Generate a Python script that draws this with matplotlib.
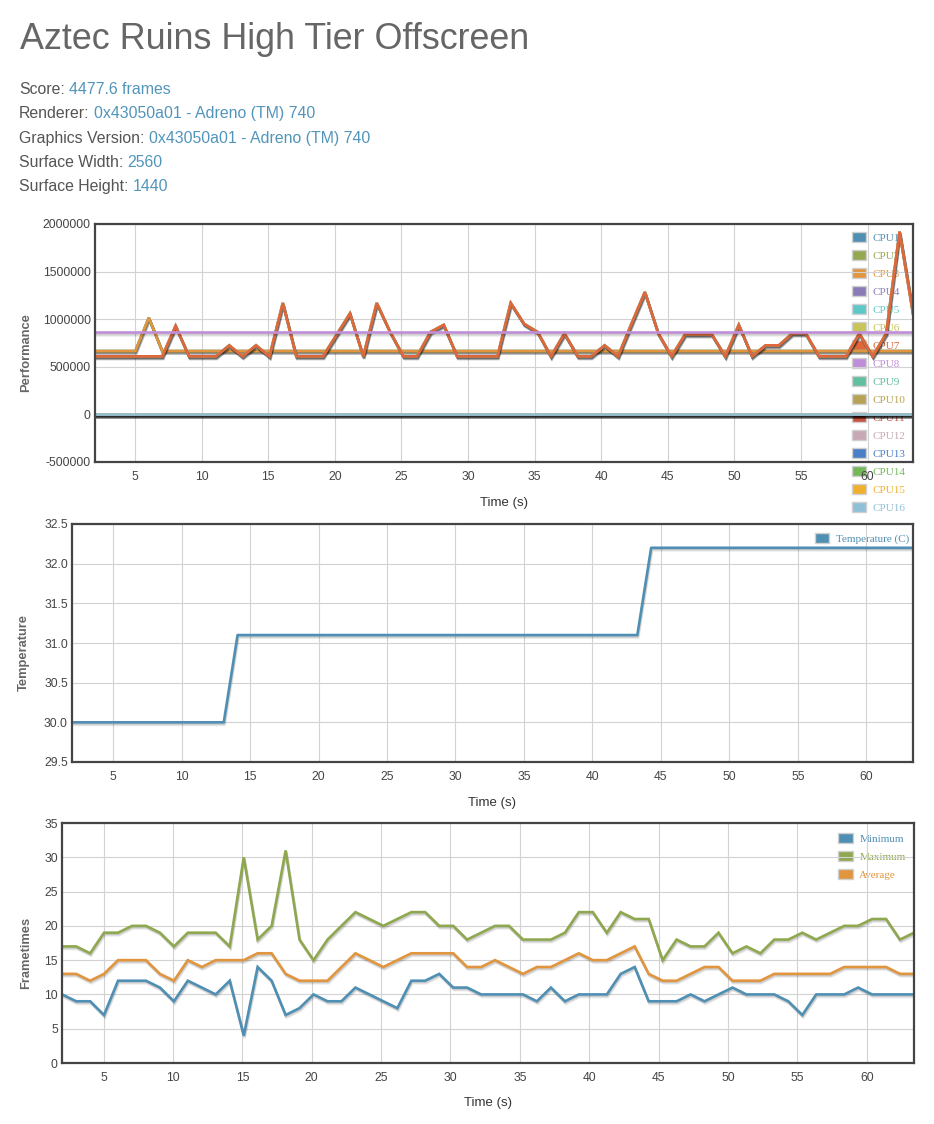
import matplotlib
matplotlib.use('Agg')
import matplotlib.pyplot as plt
from matplotlib.patches import Patch
import matplotlib.patheffects as pe

# ---------------- data ----------------
time_s = [2.01, 3.02, 4.03, 5.03, 6.04, 7.05, 8.05, 9.06, 10.07, 11.07,
          12.08, 13.08, 14.09, 15.10, 16.10, 17.11, 18.12, 19.12, 20.13, 21.14,
          22.14, 23.15, 24.16, 25.16, 26.17, 27.18, 28.18, 29.19, 30.20, 31.20,
          32.21, 33.21, 34.22, 35.23, 36.23, 37.24, 38.25, 39.25, 40.26, 41.27,
          42.27, 43.28, 44.29, 45.29, 46.30, 47.31, 48.31, 49.32, 50.33, 51.33,
          52.34, 53.34, 54.35, 55.36, 56.36, 57.37, 58.38, 59.38, 60.39, 61.40,
          62.40, 63.41]

# CPU frequency (performance) values
perf_little = [665000, 665000, 665000, 665000, 1015000, 665000, 665000, 665000, 665000, 665000,
               665000, 665000, 665000, 665000, 665000, 665000, 665000, 665000, 665000, 665000,
               665000, 665000, 665000, 665000, 665000, 665000, 665000, 665000, 665000, 665000,
               665000, 665000, 665000, 665000, 665000, 665000, 665000, 665000, 665000, 665000,
               665000, 665000, 665000, 665000, 665000, 665000, 665000, 665000, 665000, 665000,
               665000, 665000, 665000, 665000, 665000, 665000, 665000, 665000, 665000, 665000,
               665000, 665000]
perf_mid = [610000, 610000, 610000, 610000, 610000, 610000, 930000, 610000, 610000, 610000,
            725000, 610000, 725000, 610000, 1170000, 610000, 610000, 610000, 835000, 1060000,
            610000, 1170000, 865000, 610000, 610000, 865000, 940000, 610000, 610000, 610000,
            610000, 1170000, 950000, 865000, 610000, 850000, 610000, 610000, 725000, 610000,
            950000, 1285000, 850000, 610000, 840000, 840000, 840000, 610000, 940000, 610000,
            725000, 725000, 850000, 850000, 610000, 610000, 610000, 850000, 610000, 850000,
            1920000, 1060000]
perf_prime = [864000, 864000, 864000, 864000, 864000, 864000, 864000, 864000, 864000, 864000,
              864000, 864000, 864000, 864000, 864000, 864000, 864000, 864000, 864000, 864000,
              864000, 864000, 864000, 864000, 864000, 864000, 864000, 864000, 864000, 864000,
              864000, 864000, 864000, 864000, 864000, 864000, 864000, 864000, 864000, 864000,
              864000, 864000, 864000, 864000, 864000, 864000, 864000, 864000, 864000, 864000,
              864000, 864000, 864000, 864000, 864000, 864000, 864000, 864000, 864000, 864000,
              864000, 864000]
perf_idle = [0, 0, 0, 0, 0, 0, 0, 0, 0, 0,
             0, 0, 0, 0, 0, 0, 0, 0, 0, 0,
             0, 0, 0, 0, 0, 0, 0, 0, 0, 0,
             0, 0, 0, 0, 0, 0, 0, 0, 0, 0,
             0, 0, 0, 0, 0, 0, 0, 0, 0, 0,
             0, 0, 0, 0, 0, 0, 0, 0, 0, 0,
             0, 0]

cpu_names = ['CPU1', 'CPU2', 'CPU3', 'CPU4', 'CPU5', 'CPU6', 'CPU7', 'CPU8',
             'CPU9', 'CPU10', 'CPU11', 'CPU12', 'CPU13', 'CPU14', 'CPU15', 'CPU16']
cpu_data = [perf_little, perf_little, perf_little,
            perf_mid, perf_mid, perf_mid, perf_mid,
            perf_prime,
            perf_idle, perf_idle, perf_idle, perf_idle,
            perf_idle, perf_idle, perf_idle, perf_idle]

temperature = [30.0, 30.0, 30.0, 30.0, 30.0, 30.0, 30.0, 30.0, 30.0, 30.0,
               30.0, 30.0, 31.1, 31.1, 31.1, 31.1, 31.1, 31.1, 31.1, 31.1,
               31.1, 31.1, 31.1, 31.1, 31.1, 31.1, 31.1, 31.1, 31.1, 31.1,
               31.1, 31.1, 31.1, 31.1, 31.1, 31.1, 31.1, 31.1, 31.1, 31.1,
               31.1, 31.1, 32.2, 32.2, 32.2, 32.2, 32.2, 32.2, 32.2, 32.2,
               32.2, 32.2, 32.2, 32.2, 32.2, 32.2, 32.2, 32.2, 32.2, 32.2,
               32.2, 32.2]

ft_min = [10, 9, 9, 7, 12, 12, 12, 11, 9, 12,
          11, 10, 12, 4, 14, 12, 7, 8, 10, 9,
          9, 11, 10, 9, 8, 12, 12, 13, 11, 11,
          10, 10, 10, 10, 9, 11, 9, 10, 10, 10,
          13, 14, 9, 9, 9, 10, 9, 10, 11, 10,
          10, 10, 9, 7, 10, 10, 10, 11, 10, 10,
          10, 10]
ft_max = [17, 17, 16, 19, 19, 20, 20, 19, 17, 19,
          19, 19, 17, 30, 18, 20, 31, 18, 15, 18,
          20, 22, 21, 20, 21, 22, 22, 20, 20, 18,
          19, 20, 20, 18, 18, 18, 19, 22, 22, 19,
          22, 21, 21, 15, 18, 17, 17, 19, 16, 17,
          16, 18, 18, 19, 18, 19, 20, 20, 21, 21,
          18, 19]
ft_avg = [13, 13, 12, 13, 15, 15, 15, 13, 12, 15,
          14, 15, 15, 15, 16, 16, 13, 12, 12, 12,
          14, 16, 15, 14, 15, 16, 16, 16, 16, 14,
          14, 15, 14, 13, 14, 14, 15, 16, 15, 15,
          16, 17, 13, 12, 12, 13, 14, 14, 12, 12,
          12, 13, 13, 13, 13, 13, 14, 14, 14, 14,
          13, 13]

x_ticks = [5, 10, 15, 20, 25, 30, 35, 40, 45, 50, 55, 60]
perf_ticks = [-500000, 0, 500000, 1000000, 1500000, 2000000]
temp_ticks = [29.5, 30.0, 30.5, 31.0, 31.5, 32.0, 32.5]
ft_ticks = [0, 5, 10, 15, 20, 25, 30, 35]

header_title = 'Aztec Ruins High Tier Offscreen'
header_info = [('Score:', '4477.6 frames'),
               ('Renderer:', '0x43050a01 - Adreno (TM) 740'),
               ('Graphics Version:', '0x43050a01 - Adreno (TM) 740'),
               ('Surface Width:', '2560'),
               ('Surface Height:', '1440')]

# ---------------- style ----------------
cpu_colors = ['#4f8fb3', '#95a850', '#e0953e', '#8a7bb8', '#5ec8c8', '#c8c45a',
              '#e0663c', '#c08ed8', '#5fbf9e', '#b8a255', '#c8523e', '#c8a8b4',
              '#4a7ec8', '#74b85a', '#f0b02e', '#90c0d8']
C_MIN, C_MAX, C_AVG = '#4f8fb3', '#8fa850', '#e0953e'

plt.rcParams['font.family'] = ['Liberation Sans', 'DejaVu Sans']

W, H = 934, 1124
fig = plt.figure(figsize=(W / 100, H / 100), dpi=100)


def add_axes(l, t, r, b):
    return fig.add_axes([l / W, 1 - b / H, (r - l) / W, (b - t) / H])


def shadow_fx():
    fx = [pe.SimpleLineShadow(offset=(0.25 * k, -0.62 * k), shadow_color='black', alpha=0.08)
          for k in (1, 2, 3)]
    return fx + [pe.Normal()]


def style(ax, ylim, yticks, ylabels, ylabel, ylab_x, xlab_y):
    ax.set_xlim(2.0, time_s[-1])
    ax.set_ylim(*ylim)
    ax.set_xticks(x_ticks)
    ax.set_xticklabels([str(v) for v in x_ticks])
    ax.set_yticks(yticks)
    ax.set_yticklabels(ylabels)
    ax.tick_params(axis='both', length=0, labelsize=8.7, labelcolor='#444444')
    ax.tick_params(axis='x', pad=6.5)
    ax.tick_params(axis='y', pad=3.0)
    ax.grid(True, color='#d2d2d2', linewidth=0.8)
    ax.set_axisbelow(True)
    for s in ax.spines.values():
        s.set_color('#444444')
        s.set_linewidth(1.6)
    ax.set_xlabel('Time (s)', fontsize=9.5, color='#333333')
    ax.xaxis.set_label_coords(0.5, xlab_y)
    ax.set_ylabel(ylabel, fontsize=9.3, color='#666666', fontweight='bold')
    ax.yaxis.set_label_coords(ylab_x, 0.46)


def legend(ax, names, colors, anchor):
    handles = [Patch(facecolor=c, edgecolor='#d0d0d0', linewidth=1.0) for c in colors]
    leg = ax.legend(handles, names, loc='upper left', bbox_to_anchor=anchor,
                    frameon=False, prop={'family': 'Liberation Serif', 'size': 8},
                    labelcolor=colors, handlelength=1.3, handleheight=1.0,
                    handletextpad=0.6, labelspacing=0.65, borderpad=0, borderaxespad=0)
    # below the axis tick labels and the data lines
    leg.set_zorder(0.4)
    return leg


# ---------------- header ----------------
fig.text(19.5 / W, 1 - 49.0 / H, header_title, fontsize=25.8, color='#666666',
         va='baseline', ha='left')
renderer = fig.canvas.get_renderer()
for k, (lab, val) in enumerate(header_info):
    yb = 1 - (94.3 + 24.1 * k) / H
    t = fig.text(19 / W, yb, lab, fontsize=11.45, color='#555555', va='baseline', ha='left')
    x1 = t.get_window_extent(renderer).x1
    fig.text((x1 + 4.3) / W, yb, val, fontsize=11.45, color='#5295bb', va='baseline', ha='left')

# ---------------- chart 1: performance ----------------
ax1 = add_axes(95, 224, 913, 462)
for name, vals, col in zip(cpu_names, cpu_data, cpu_colors):
    ax1.plot(time_s, vals, color=col, linewidth=1.9, zorder=2,
             solid_joinstyle='miter', path_effects=shadow_fx())
style(ax1, (-500000, 2000000), perf_ticks, [str(v) for v in perf_ticks],
      'Performance', -0.077, -0.145)
legend(ax1, cpu_names, cpu_colors, (0.925, 0.966))

# ---------------- chart 2: temperature ----------------
ax2 = add_axes(72, 524, 913, 762)
ax2.plot(time_s, temperature, color=cpu_colors[0], linewidth=1.9, zorder=2,
         path_effects=shadow_fx())
style(ax2, (29.5, 32.5), temp_ticks, ['%.1f' % v for v in temp_ticks],
      'Temperature', -0.050, -0.145)
legend(ax2, ['Temperature (C)'], [cpu_colors[0]], (0.8835, 0.962))

# ---------------- chart 3: frametimes ----------------
ax3 = add_axes(62, 823, 914, 1063)
for vals, col in ((ft_min, C_MIN), (ft_max, C_MAX), (ft_avg, C_AVG)):
    ax3.plot(time_s, vals, color=col, linewidth=1.9, zorder=2,
             solid_joinstyle='miter', path_effects=shadow_fx())
style(ax3, (0, 35), ft_ticks, [str(v) for v in ft_ticks], 'Frametimes', -0.035, -0.14)
legend(ax3, ['Minimum', 'Maximum', 'Average'], [C_MIN, C_MAX, C_AVG], (0.911, 0.958))

fig.savefig('out.png', dpi=100)
